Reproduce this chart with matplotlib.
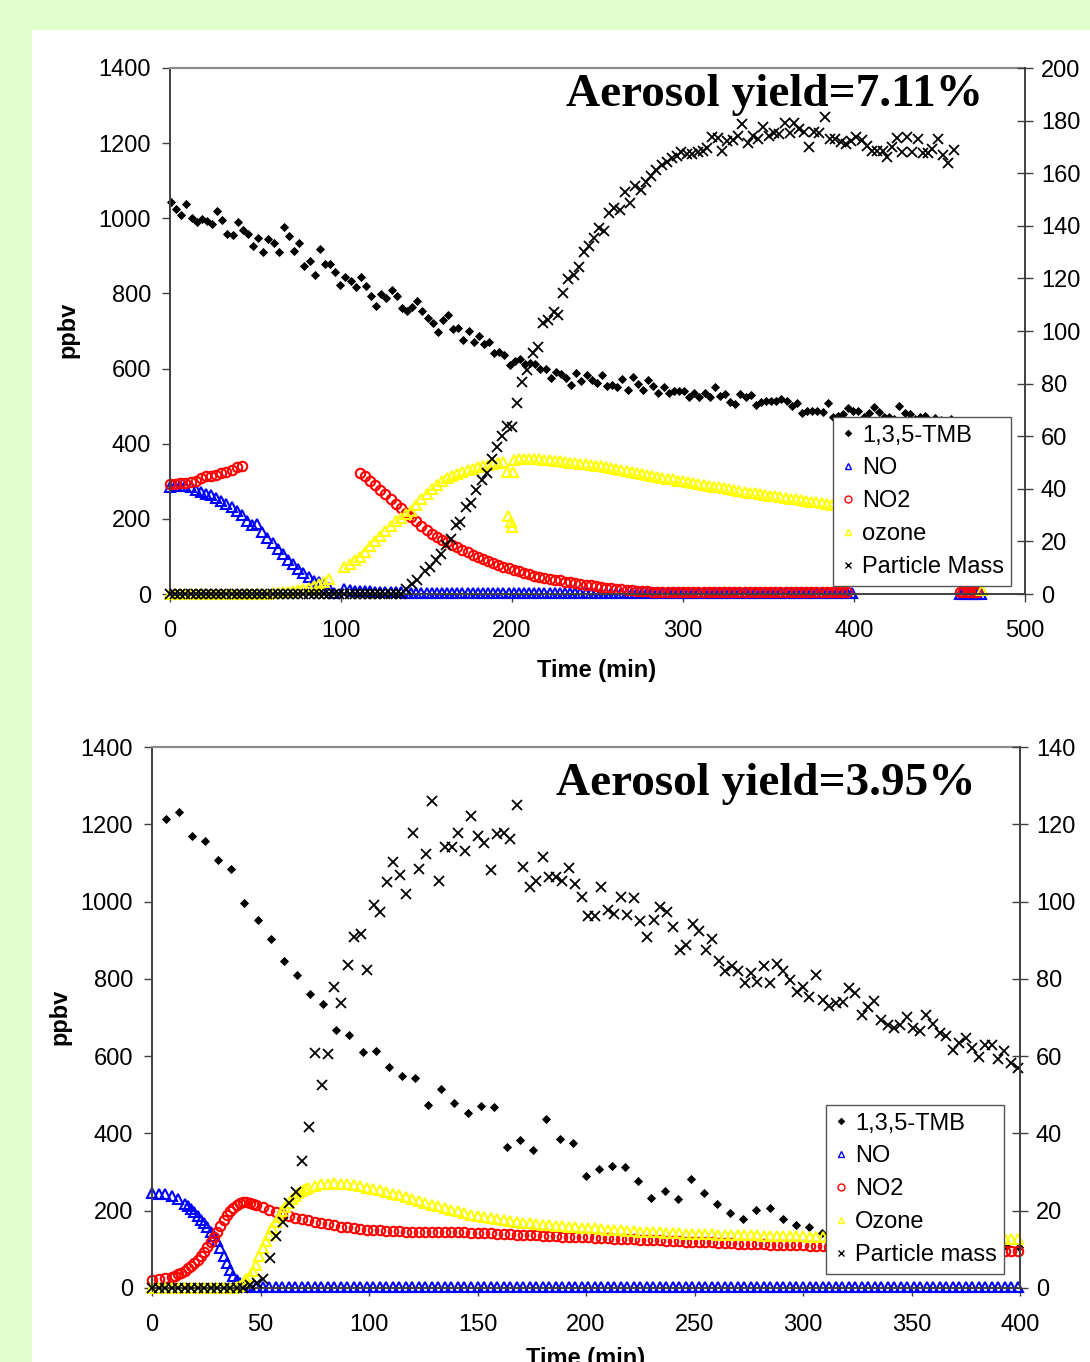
import numpy as np
import matplotlib
matplotlib.use('Agg')
import matplotlib.pyplot as plt
from matplotlib.patches import Rectangle
from matplotlib.lines import Line2D

# ---------------- top chart (yield 7.11 %) ----------------
# each segment: start time, step (min)
tmb1_start, tmb1_step = 0.6, 3.0
tmb1 = [1044, 1025, 1010, 1038, 1002, 991, 998, 994, 984, 1020, 996, 959, 955, 991, 969, 959,
        926, 948, 910, 944, 933, 910, 976, 953, 914, 934, 872, 886, 848, 918, 877, 877, 858, 822,
        845, 833, 818, 845, 821, 793, 767, 798, 787, 809, 793, 762, 753, 763, 781, 754, 734, 720,
        698, 729, 743, 704, 707, 676, 700, 672, 687, 665, 672, 642, 645, 636, 609, 620, 625, 612,
        614, 611, 598, 598, 576, 592, 586, 576, 556, 589, 567, 583, 570, 561, 582, 554, 556, 552,
        571, 543, 577, 559, 543, 570, 554, 536, 552, 534, 540, 541, 540, 525, 536, 525, 534, 524,
        550, 527, 532, 512, 506, 532, 525, 530, 503, 512, 514, 514, 515, 518, 515, 500, 509, 483,
        488, 488, 488, 485, 508, 470, 474, 478, 494, 488, 488, 470, 483, 499, 485, 470, 472, 465,
        500, 481, 479, 466, 470, 474, 460, 468, 462, 458, 465]

no1_a = [285, 287, 288, 287, 285, 278, 272, 267, 263, 255, 248, 240, 232, 220, 210, 193, 183,
         186, 165, 150, 136, 120, 106, 90, 79, 67, 57, 46, 35, 31, 28, 15, 3]          # t = 0, 3, ...
no1_b = [12, 10, 9, 8, 7, 7, 6, 6, 5, 5, 4, 4, 3, 3] + [2] * 86                      # t = 102, 105, ...
no1_c = [1] * 7                                                                   # t = 462, 464, ...

no2_1_a = [294, 294, 295, 296, 297, 302, 309, 313, 314, 316, 322, 326, 331, 337, 341]  # t = 0, 3, ...
no2_1_b = [321, 313, 301, 289, 277, 265, 252, 240, 228, 216, 204, 193, 181, 170, 161, 153, 145,
           138, 131, 124, 117, 111, 104, 98, 93, 88, 83, 78, 73, 68, 64, 60, 56, 53, 49, 46, 43,
           40, 38, 36, 33, 31, 29, 27, 25, 23, 21, 19, 17, 16, 14, 13, 11, 10, 9, 8, 7, 6, 6, 5,
           5, 4, 4] + [4] * 33                                                    # t = 111, 114, ...
no2_1_c = [5] * 6                                                                 # t = 462, 464, ...

o3_1_a = [0] * 20 + [2, 3, 4, 6, 8, 11, 14, 17, 21, 27, 33, 39]                   # t = 0, 3, ...
o3_1_b = [73, 80, 90, 99, 112, 128, 142, 155, 168, 182, 193, 203, 213, 222, 236, 252, 266, 279,
          291, 301, 308, 314, 319, 324, 329, 333, 337, 340, 344, 347, 350, 352]   # t = 102, 105, ...
o3_1_c = [357, 358, 358, 358, 358, 358, 357, 356, 355, 353, 352, 350, 349, 347, 346, 344, 342,
          340, 337, 335, 332, 330, 327, 325, 322, 320, 317, 315, 312, 310, 307, 305, 302, 300,
          298, 295, 293, 291, 288, 286, 284, 281, 279, 277, 275, 272, 270, 268, 266, 264, 262,
          260, 258, 256, 254, 252, 250, 248, 246, 244, 242, 240, 238, 236, 234, 232]  # t = 201, ...
o3_1_extra_t = [196.9, 200.4, 197.5, 199.3, 199.8, 475]
o3_1_extra = [326, 326, 208, 192, 178, 10]

pm1_zero = [0] * 46                                                               # t = 0, 3, ...
pm1_t = [138, 141.3, 144.6, 149, 152, 155.6, 158.5, 161.4, 164.2, 167.3, 169.6, 173.1, 176,
         178.9, 182.3, 185.2, 188.1, 191, 194, 196.9, 199.8, 203.1, 206, 209, 212.1, 215.1,
         218.2, 221.3, 224.4, 226.8, 229.9, 233, 236.1, 239.2, 242.2, 245.3, 248, 251, 253.7,
         256.8, 259.8, 262.9, 266, 269.1, 272.2, 275.2, 278.3, 281.4, 284.4, 287.5, 290.6,
         293.7, 296.5, 298.8, 302.3, 305.4, 308.5, 311.5, 314.2, 317.1, 320.2, 322.8, 325.9, 329,
         332, 334.7, 337.8, 340.9, 343.9, 347, 350.1, 353.2, 356.2, 359.4, 362.4, 364.9, 368,
         371, 373.7, 376.8, 379.8, 382.9, 386, 389, 392.2, 395.2, 398.3, 401.4, 404.4, 407.5,
         410.6, 413.7, 416.8, 419.2, 422.3, 425.4, 428.1, 431.1, 434.2, 437.3, 440.4, 443.4,
         445.9, 449, 452, 455.1, 458.2]
pm1 = [1.8, 3.8, 5.3, 8.9, 10.4, 12.9, 15.2, 18.6, 20.8, 26.1, 27.4, 33.2, 34.5, 39.5, 43.3,
       46.1, 51.4, 55.8, 60.1, 63.9, 63.6, 72.5, 80.7, 85.2, 91.5, 94, 102.9, 104.2, 107.3, 106.1,
       114.6, 119.6, 121.3, 124.5, 130.2, 132.3, 135.2, 139, 138, 144.7, 146.6, 146, 153, 148.5,
       155.1, 153.6, 156.8, 158.9, 161.2, 163.1, 164.4, 165.7, 166.5, 168.2, 167.3, 167.3, 168.2,
       168.6, 169.5, 173.9, 173.3, 168.4, 172.4, 172.6, 174.1, 178.7, 171.4, 174.1, 172.9, 177.4,
       174.1, 175.2, 174.8, 179.2, 175.4, 179, 176.7, 175.8, 170.1, 175.5, 175.2, 181.3, 172.9,
       172.9, 172, 171, 172.2, 173.9, 172.6, 170.3, 168.6, 168.6, 168.6, 166, 170.1, 173.3,
       168.2, 173.9, 168.2, 172.9, 167.8, 167.6, 169.1, 172.9, 166.9, 164, 168.8]

# ---------------- bottom chart (yield 3.95 %) ----------------
tmb2_start, tmb2_step = 6.3, 6.05
tmb2 = [1213, 1231, 1170, 1157, 1108, 1084, 996, 952, 903, 847, 809, 761, 735, 668, 655, 610,
        613, 573, 549, 543, 474, 515, 478, 453, 471, 468, 365, 383, 357, 437, 385, 376, 290, 307,
        317, 312, 276, 232, 250, 230, 281, 245, 217, 195, 179, 202, 207, 178, 162, 157, 143, 140,
        135, 130, 128, 125, 122, 120, 118, 115, 113, 112, 110, 110, 108, 107]

no_2 = [245, 244, 242, 238, 230, 218, 204, 186, 167, 145, 121, 83, 47, 20, 6, 3] + [2] * 118  # t = 0, 3, ...
no_2_mid = [212, 196, 177, 157, 134, 103, 64, 32, 12, 4]                          # t = 16.5, 19.5, ...

no2_2 = [21, 23, 25, 28, 35, 45, 57, 73, 93, 118, 145, 175, 200, 215, 222, 220, 215, 209, 202,
         196, 191, 186, 182, 179, 175, 172, 168, 165, 162, 159, 157, 155, 153, 151, 150, 149, 148,
         147, 147, 146, 146, 146, 146, 146, 146, 145, 145, 144, 144, 143, 143, 142, 142, 141, 140,
         139, 138, 137, 137, 136, 135, 135, 134, 133, 133, 132, 131, 131, 130, 129, 129, 128, 127,
         127, 126, 125, 125, 124, 123, 122, 122, 121, 120, 120, 119, 119, 118, 117, 117, 116, 115,
         115, 114, 113, 113, 112, 112, 111, 111, 110, 110, 109, 108, 108, 107, 107, 106, 106, 106,
         105, 105, 105, 104, 104, 103, 103, 103, 102, 102, 102, 101, 101, 101, 100, 100, 100, 99,
         99, 99, 98, 98, 97, 97, 96]
no2_2_mid = [31, 40, 51, 65, 83, 105, 131, 160, 188, 208, 219, 222, 218]          # t = 10.5, 13.5, ...

o3_2 = [0] * 12 + [0, 2, 12, 30, 60, 103, 138, 170, 198, 220, 238, 250, 258, 264, 268, 270, 271,
        270, 269, 266, 263, 260, 257, 253, 248, 244, 240, 236, 231, 226, 221, 216, 211, 206, 202,
        198, 194, 190, 187, 184, 181, 178, 176, 173, 171, 169, 167, 165, 164, 163, 161, 160, 158,
        157, 156, 155, 154, 152, 151, 150, 149, 148, 147, 146, 146, 145, 144, 143, 142, 142, 141,
        140, 140, 139, 139, 138, 138, 137, 137, 136, 136, 136, 135, 135, 135, 134, 134, 134, 134,
        133, 133, 133, 133, 132, 132, 132, 132, 132, 131, 131, 131, 131, 131, 130, 130, 130, 130,
        130, 130, 129, 129, 129, 129, 129, 129, 129, 128, 128, 128, 128, 128, 128]
o3_2_mid = [0, 6, 22, 45, 82, 121, 156, 185, 210, 230, 245, 255]                  # t = 37.5, 40.5, ...

pm2_zero = [0] * 15                                                               # t = 0, 3, ...
pm2_t = [45.2, 48.2, 51.3, 54.4, 57.1, 60.2, 63.1, 66.2, 69.3, 72.4, 75.1, 78.2, 81.1, 84, 87.1,
         90.2, 93.1, 96.2, 99.2, 102.2, 105.1, 108.1, 111.2, 114.1, 117.2, 120.3, 123.2, 126.1,
         129, 132.1, 135, 138.1, 141.2, 144.2, 147.2, 150.1, 153.2, 156.1, 159.1, 162.2, 165.1,
         168.1, 171.1, 174.2, 177.1, 180.2, 183.1, 186, 189.1, 192, 195.1, 198, 201.1, 204.1,
         206.9, 210, 213, 216, 219, 222.1, 225, 228.1, 231.2, 234.2, 237.2, 240.2, 243.3, 246.1,
         249.2, 252.1, 255.2, 258.1, 261.1, 264, 267.1, 270.2, 273.1, 276, 279, 282, 284.9, 288,
         291, 294, 297.1, 299.9, 302.9, 306, 309.1, 312.1, 315.2, 318.3, 321.3, 324, 327, 330.1,
         332.9, 336, 339, 341.8, 344.7, 347.8, 350.8, 353.9, 356.7, 360, 363.1, 365.9, 369, 372,
         375, 378, 381.1, 383.9, 386.9, 390, 392.7, 395.9, 398.9]
pm2 = [0.8, 1.2, 2.3, 7.7, 13.5, 17.2, 22.1, 24.8, 32.9, 41.7, 60.7, 52.5, 60.5, 77.8, 73.8, 83.6,
       90.9, 91.5, 82.3, 99.1, 97.4, 105.1, 110.3, 106.9, 102, 117.8, 108.4, 112.3, 125.9, 105.3,
       114.1, 114.2, 117.7, 113.1, 122.2, 117, 115.2, 108.2, 117.4, 117.8, 116.1, 125, 108.9,
       103.9, 105.4, 111.5, 106.3, 106.3, 105.4, 108.6, 104.6, 101.3, 96.3, 96.3, 103.7, 97.9,
       96.8, 101.2, 96.4, 100.9, 95, 90.8, 95.3, 98.5, 97.2, 93.3, 87.5, 88.8, 94.2, 92.5, 87.5,
       90.3, 84.7, 82.1, 83.2, 82.1, 78.9, 81.4, 79.3, 83.2, 78.9, 83.8, 82, 79.7, 76.7, 77.8,
       75.4, 81, 74.5, 73, 73.7, 74.1, 77.6, 76.3, 70.7, 72.6, 74.3, 69.4, 68.1, 67.2, 68.1, 70.2,
       67.2, 66.6, 70.7, 68.3, 65.9, 65.2, 61.6, 63.3, 64.6, 62.2, 59.9, 62.9, 62.9, 59.2, 61.3,
       58.3, 57]

W, H = 1090, 1362
plt.rcParams['font.family'] = ['Liberation Sans', 'DejaVu Sans']

STY = {
    'tmb': dict(marker='D', color='black', mfc='black', ms=4.2, mew=0.6),
    'no': dict(marker='^', color='#0000ff', mfc='none', ms=7, mew=1.5),
    'no2': dict(marker='o', color='#ff0000', mfc='none', ms=6.8, mew=1.5),
    'o3': dict(marker='^', color='#ffff00', mfc='none', ms=7, mew=1.5),
    'pm': dict(marker='x', color='black', ms=7, mew=1.3),
}
LEG_MS = {'tmb': 3.4, 'no': 5, 'no2': 5, 'o3': 5, 'pm': 5}


def box(left, top, right, bottom):
    return [left / W, 1 - bottom / H, (right - left) / W, (bottom - top) / H]


def seg(start, step, vals):
    return start + step * np.arange(len(vals)), np.array(vals, dtype=float)


def pts(ax, key, t, v):
    ax.plot(t, v, linestyle='none', clip_on=False, **STY[key])


def style_axes(ax, ax2, xmax, xstep, rmax):
    ax.set_xlim(0, xmax)
    ax.set_ylim(0, 1400)
    ax2.set_ylim(0, rmax)
    ax.set_xticks(np.arange(0, xmax + 1, xstep))
    ax.set_yticks(np.arange(0, 1401, 200))
    ax2.set_yticks(np.arange(0, rmax + 1, 20))
    for s in ['left', 'bottom']:
        ax.spines[s].set_color('#404040')
        ax.spines[s].set_linewidth(1.4)
    ax.spines['top'].set_color('#8c8c8c')
    ax.spines['top'].set_linewidth(1.6)
    ax.spines['right'].set_visible(False)
    for s in ['left', 'bottom', 'top']:
        ax2.spines[s].set_visible(False)
    ax2.spines['right'].set_color('#404040')
    ax2.spines['right'].set_linewidth(1.4)
    ax.tick_params(axis='y', direction='out', length=5.5, width=1, pad=8, labelsize=17,
                   color='#404040')
    ax.tick_params(axis='x', direction='out', length=5.5, width=1, pad=13, labelsize=17,
                   color='#404040')
    ax2.tick_params(axis='y', direction='inout', length=11, width=1, pad=6, labelsize=17,
                    color='#404040')


def legend(ax2, labels, anchor):
    keys = ['tmb', 'no', 'no2', 'o3', 'pm']
    handles = []
    for k in keys:
        st = dict(STY[k])
        st['ms'] = LEG_MS[k]
        st['mew'] = 1.0 if k != 'tmb' else 0.5
        handles.append(Line2D([], [], linestyle='none', **st))
    leg = ax2.legend(handles, labels, loc='upper left', bbox_to_anchor=anchor,
                     borderaxespad=0, fancybox=False, framealpha=1, edgecolor='#555555',
                     fontsize=17, handlelength=0.6, handletextpad=0.3, labelspacing=0.46,
                     borderpad=0.32)
    leg.get_frame().set_linewidth(1.0)


fig = plt.figure(figsize=(W / 100, H / 100), dpi=100)
fig.patch.set_facecolor('#e0ffcc')
fig.patches.append(Rectangle((32 / W, 0), 1 - 32 / W, 1 - 30 / H, transform=fig.transFigure,
                             facecolor='white', edgecolor='none', zorder=-5))

# ---- top chart ----
ax = fig.add_axes(box(170, 68, 1025, 594))
ax2 = ax.twinx()
ax.patch.set_alpha(0)
pts(ax, 'tmb', *seg(tmb1_start, tmb1_step, tmb1))
pts(ax, 'no', *seg(0, 3, no1_a))
pts(ax, 'no', *seg(102, 3, no1_b))
pts(ax, 'no', *seg(462, 2, no1_c))
pts(ax, 'no2', *seg(0, 3, no2_1_a))
pts(ax, 'no2', *seg(111, 3, no2_1_b))
pts(ax, 'no2', *seg(462, 2, no2_1_c))
pts(ax, 'o3', *seg(0, 3, o3_1_a))
pts(ax, 'o3', *seg(102, 3, o3_1_b))
pts(ax, 'o3', *seg(201, 3, o3_1_c))
pts(ax, 'o3', o3_1_extra_t, o3_1_extra)
pts(ax2, 'pm', *seg(0, 3, pm1_zero))
pts(ax2, 'pm', pm1_t, pm1)
style_axes(ax, ax2, 500, 100, 200)
legend(ax2, ['1,3,5-TMB', 'NO', 'NO2', 'ozone', 'Particle Mass'],
       ((833 - 170) / 855, (594 - 417) / 526))

fig.text(983 / W, 1 - 106 / H, 'Aerosol yield=7.11%', family='Liberation Serif',
         weight='bold', fontsize=34, ha='right', va='baseline')
fig.text(68 / W, 1 - 330 / H, 'ppbv', fontsize=17, weight='bold', rotation=90,
         ha='center', va='center')
fig.text(597 / W, 1 - 670 / H, 'Time (min)', fontsize=17, weight='bold',
         ha='center', va='center')

# ---- bottom chart ----
bx = fig.add_axes(box(152, 747, 1020, 1288))
bx2 = bx.twinx()
bx.patch.set_alpha(0)
pts(bx, 'tmb', *seg(tmb2_start, tmb2_step, tmb2))
pts(bx, 'no', *seg(0, 3, no_2))
pts(bx, 'no', *seg(16.5, 3, no_2_mid))
pts(bx, 'no2', *seg(0, 3, no2_2))
pts(bx, 'no2', *seg(10.5, 3, no2_2_mid))
pts(bx, 'o3', *seg(0, 3, o3_2))
pts(bx, 'o3', *seg(37.5, 3, o3_2_mid))
pts(bx2, 'pm', *seg(0, 3, pm2_zero))
pts(bx2, 'pm', pm2_t, pm2)
style_axes(bx, bx2, 400, 50, 140)
legend(bx2, ['1,3,5-TMB', 'NO', 'NO2', 'Ozone', 'Particle mass'],
       ((826 - 152) / 868, (1288 - 1105) / 541))

fig.text(976 / W, 1 - 795 / H, 'Aerosol yield=3.95%', family='Liberation Serif',
         weight='bold', fontsize=34, ha='right', va='baseline')
fig.text(60 / W, 1 - 1017 / H, 'ppbv', fontsize=17, weight='bold', rotation=90,
         ha='center', va='center')
fig.text(586 / W, 1 - 1358 / H, 'Time (min)', fontsize=17, weight='bold',
         ha='center', va='center')

fig.savefig('out.png', dpi=100, facecolor=fig.get_facecolor())
